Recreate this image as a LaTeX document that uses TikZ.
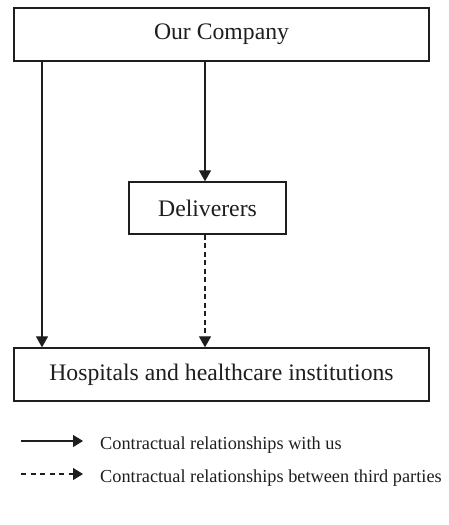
\documentclass[tikz,border=0pt]{standalone}
\usepackage{fontspec}
\setmainfont{Liberation Serif}
\usetikzlibrary{arrows.meta}
\definecolor{ink}{HTML}{1E1E1E}
\begin{document}
\begin{tikzpicture}[x=1pt,y=-1pt,
  box/.style={draw=ink,line width=1.3pt,rectangle,inner sep=0pt,anchor=center,text=ink,font=\fontsize{23.7}{28}\selectfont},
  conn/.style={draw=ink,line width=1.1pt,-{Triangle[length=11pt,width=12pt]}},
  dconn/.style={conn,dash pattern=on 5pt off 3.5pt},
  legtext/.style={anchor=base west,text=ink,inner sep=0pt,font=\fontsize{18.3}{22}\selectfont}]
\useasboundingbox (0,0) rectangle (448,525);
\node[box,minimum width=415pt,minimum height=53pt] (top) at (221.5,34.5) {Our Company};
\node[box,minimum width=157pt,minimum height=52pt] (deliv) at (207.5,208) {Deliverers};
\node[box,minimum width=415pt,minimum height=53pt] (hosp) at (221.5,374.5) {Hospitals and healthcare institutions};
\coordinate (l) at (42,0);
\coordinate (m) at (205,0);
\draw[conn] (top.south -| l) -- (hosp.north -| l);
\draw[conn] (top.south -| m) -- (deliv.north -| m);
\draw[dconn] (deliv.south -| m) -- (hosp.north -| m);
% legend
\coordinate (a1) at (21,441);
\coordinate (b1) at (83,441);
\coordinate (a2) at (21,474);
\coordinate (b2) at (83,474);
\draw[conn,-{Triangle[length=10pt,width=12pt]}] (a1) -- (b1);
\draw[conn,dash pattern=on 5pt off 4.5pt,-{Triangle[length=10pt,width=12pt]}] (a2) -- (b2);
\node[legtext] (t1) at (100,449) {Contractual relationships with us};
\node[legtext] (t2) at (100,482) {Contractual relationships between third parties};
\end{tikzpicture}
\end{document}
